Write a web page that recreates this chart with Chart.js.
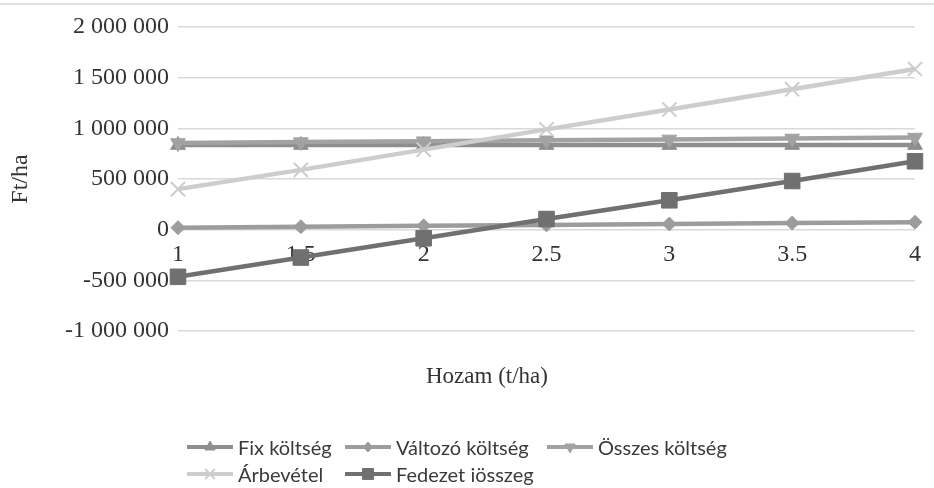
<!DOCTYPE html>
<html>
<head>
<meta charset="utf-8">
<script src="https://cdn.jsdelivr.net/npm/chart.js@4.4.1/dist/chart.umd.min.js"></script>
<style>
  html, body { margin: 0; padding: 0; background: #fff; }
  #wrap { position: relative; width: 934px; height: 488px; overflow: hidden; }
  #topline { position: absolute; left: 0; top: 3px; width: 934px; border-top: 2px solid #e0e0e0; }
  #legend {
    position: absolute; left: 187px; top: 434px;
    display: grid; grid-template-columns: 158px 202px auto; row-gap: 1px;
    font-family: Lato, "Liberation Sans", sans-serif; font-size: 20px; color: #3a3a3a;
  }
  .item { display: flex; align-items: center; height: 26px; white-space: nowrap; }
  .item canvas { margin-right: 5px; }
</style>
</head>
<body>
<div id="wrap">
  <canvas id="chart" width="934" height="488"></canvas>
  <div id="topline"></div>
  <div id="legend"></div>
</div>
<script>
// Hozam (t/ha)
const yields = ['1', '1.5', '2', '2.5', '3', '3.5', '4'];

// Ft/ha
const fixCost   = [835000, 835000, 835000, 835000, 835000, 835000, 835000];
const varCost   = [20000, 29000, 38000, 47000, 56000, 65000, 74000];
const totalCost = [855000, 864000, 873000, 882000, 891000, 900000, 909000];
const revenue   = [400000, 590000, 790000, 990000, 1185000, 1385000, 1585000];
const margin    = [-465000, -275000, -85000, 105000, 290000, 480000, 675000];

const seriesNames = ['Fix költség', 'Változó költség', 'Összes költség', 'Árbevétel', 'Fedezet iösszeg'];

function fmt(v) {
  const s = Math.abs(v).toString().replace(/\B(?=(\d{3})+(?!\d))/g, ' ');
  return (v < 0 ? '-' : '') + s;
}

const styles = [
  { color: '#8e8e8e', pointStyle: 'triangle', radius: 8.5, rotation: 0 },
  { color: '#9c9c9c', pointStyle: 'rectRot', radius: 7, rotation: 0 },
  { color: '#a2a2a2', pointStyle: 'triangle', radius: 8.5, rotation: 180 },
  { color: '#cdcdcd', pointStyle: 'crossRot', radius: 10, rotation: 0 },
  { color: '#707070', pointStyle: 'rect', radius: 11, rotation: 0 }
];

const values = [fixCost, varCost, totalCost, revenue, margin];

const datasets = values.map((d, i) => ({
  label: seriesNames[i],
  data: d,
  borderColor: styles[i].color,
  backgroundColor: styles[i].color,
  borderWidth: 4.5,
  pointStyle: styles[i].pointStyle,
  pointRadius: styles[i].radius,
  pointRotation: styles[i].rotation,
  pointBorderWidth: styles[i].pointStyle === 'crossRot' ? 2 : 1,
  pointBorderColor: styles[i].color,
  pointBackgroundColor: styles[i].color,
  tension: 0,
  order: 5 - i
}));

const xTitle = {
  id: 'xTitle',
  afterDraw(chart) {
    const ctx = chart.ctx;
    ctx.save();
    ctx.font = '23px "Liberation Serif"';
    ctx.fillStyle = '#333';
    ctx.textAlign = 'center';
    ctx.textBaseline = 'middle';
    ctx.fillText('Hozam (t/ha)', 487, 377);
    ctx.restore();
  }
};

const chart = new Chart(document.getElementById('chart'), {
  type: 'line',
  data: { labels: yields, datasets: datasets },
  options: {
    responsive: false,
    animation: false,
    layout: { padding: { left: 0, right: 19, top: 27, bottom: 157 } },
    plugins: { legend: { display: false }, tooltip: { enabled: false } },
    scales: {
      x: {
        position: { y: 0 },
        offset: false,
        grid: { display: false },
        border: { display: false },
        ticks: { color: '#333', font: { family: 'Liberation Serif', size: 24 }, padding: 3, maxRotation: 0 }
      },
      y: {
        min: -1000000,
        max: 2000000,
        afterFit(s) { s.width = 178; },
        ticks: {
          stepSize: 500000,
          color: '#333',
          font: { family: 'Liberation Serif', size: 24 },
          padding: 9,
          callback: v => fmt(v)
        },
        grid: { color: '#d9d9d9', lineWidth: 1.5, drawTicks: false },
        border: { display: false },
        title: { display: true, text: 'Ft/ha', color: '#333', font: { family: 'Liberation Serif', size: 24 }, padding: { top: 6, bottom: 0 } }
      }
    }
  },
  plugins: [xTitle]
});

// legend: line with its marker, like the original
const legend = document.getElementById('legend');
seriesNames.forEach((name, i) => {
  const item = document.createElement('div');
  item.className = 'item';
  const c = document.createElement('canvas');
  c.width = 46; c.height = 20;
  const g = c.getContext('2d');
  g.strokeStyle = styles[i].color;
  g.lineWidth = 4;
  g.beginPath(); g.moveTo(0, 10); g.lineTo(46, 10); g.stroke();
  if (Chart.helpers && Chart.helpers.drawPoint) {
    g.fillStyle = styles[i].color;
    g.lineWidth = styles[i].pointStyle === 'crossRot' ? 2 : 1;
    Chart.helpers.drawPoint(g, {
      pointStyle: styles[i].pointStyle,
      radius: styles[i].radius * 0.7,
      rotation: styles[i].rotation,
      borderWidth: g.lineWidth
    }, 23, 10);
  }
  const t = document.createElement('span');
  t.textContent = name;
  item.appendChild(c);
  item.appendChild(t);
  legend.appendChild(item);
});
</script>
</body>
</html>
